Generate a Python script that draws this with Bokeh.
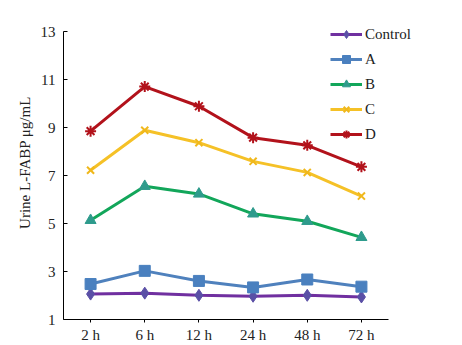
from bokeh.plotting import figure
from bokeh.models import FixedTicker, Range1d
from bokeh.embed import file_html
from bokeh.resources import INLINE

times = ["2 h", "6 h", "12 h", "24 h", "48 h", "72 h"]
control = [2.06, 2.10, 2.01, 1.97, 2.01, 1.94]
group_a = [2.48, 3.03, 2.61, 2.34, 2.67, 2.37]
group_b = [5.14, 6.56, 6.24, 5.41, 5.10, 4.43]
group_c = [7.23, 8.90, 8.38, 7.60, 7.14, 6.15]
group_d = [8.86, 10.72, 9.90, 8.59, 8.27, 7.37]
y_ticks = [1, 3, 5, 7, 9, 11, 13]

FONT = "Liberation Serif"

xpos = list(range(len(times)))

p = figure(width=462, height=345, x_range=Range1d(-0.5, 6.866),
           y_range=Range1d(1, 14.105), output_backend="svg", toolbar_location=None,
           min_border_left=63, min_border_right=0, min_border_top=5, min_border_bottom=23)
p.outline_line_color = None
p.xgrid.visible = False
p.ygrid.visible = False
p.background_fill_color = "white"
p.border_fill_color = "white"

series = [
    ("Control", control, "#7030a0", "#5a4fa6", "diamond", 12),
    ("A", group_a, "#4f81bd", "#4a80bf", "square", 11),
    ("B", group_b, "#12a65a", "#2e9b8c", "triangle", 11),
    ("C", group_c, "#f5c127", "#f0b81c", "x", 10),
    ("D", group_d, "#b2121b", "#b2121b", "asterisk", 11),
]
for name, vals, lc, mc, marker, size in series:
    p.line(xpos, vals, line_color=lc, line_width=3, legend_label=name)
    if marker in ("x", "asterisk"):
        p.scatter(xpos, vals, marker=marker, size=size, line_color=mc, line_width=2,
                  legend_label=name)
    else:
        p.scatter(xpos, vals, marker=marker, size=size, fill_color=mc, line_color=mc,
                  legend_label=name)

ya = p.yaxis[0]
ya.ticker = FixedTicker(ticks=y_ticks)
ya.bounds = (1, 13)
ya.minor_tick_line_color = None
ya.major_tick_in = 4
ya.major_tick_out = 0
ya.major_label_standoff = 8
ya.axis_label = "Urine L-FABP μg/mL"
ya.axis_label_standoff = 5
ya.axis_label_text_font = FONT
ya.axis_label_text_font_style = "normal"
ya.axis_label_text_font_size = "15px"
ya.major_label_text_font = FONT
ya.major_label_text_font_size = "15px"
ya.axis_line_color = "black"
ya.major_tick_line_color = "black"
ya.major_label_text_color = "#222222"
ya.axis_label_text_color = "#222222"

xa = p.xaxis[0]
xa.ticker = FixedTicker(ticks=xpos)
xa.major_label_overrides = {i: t for i, t in zip(xpos, times)}
xa.bounds = (-0.5, len(times) - 0.5)
xa.minor_tick_line_color = None
xa.major_tick_in = 0
xa.major_tick_out = 3
xa.major_label_standoff = 4
xa.major_label_text_font = FONT
xa.major_label_text_font_size = "15px"
xa.axis_line_color = "black"
xa.major_tick_line_color = "black"
xa.major_label_text_color = "#222222"

lg = p.legend[0]
lg.location = (267, 175)
lg.border_line_color = None
lg.background_fill_alpha = 0
lg.padding = 0
lg.margin = 0
lg.spacing = 5
lg.label_height = 20
lg.glyph_height = 20
lg.glyph_width = 32
lg.label_standoff = 3
lg.label_text_font = FONT
lg.label_text_font_size = "15px"
lg.label_text_color = "#222222"

open("out.html", "w").write(file_html(p, INLINE))
